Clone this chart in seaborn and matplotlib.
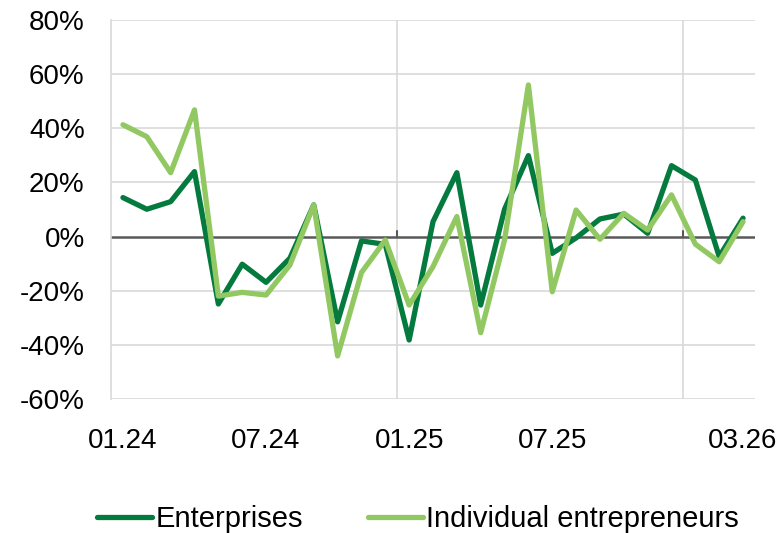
import pandas as pd
import matplotlib
matplotlib.use("Agg")
import matplotlib.pyplot as plt
import seaborn as sns
from matplotlib.ticker import PercentFormatter

# ==============================
# Data (month-over-month change, %)
# ==============================

months = ["01.24", "02.24", "03.24", "04.24", "05.24", "06.24", "07.24", "08.24", "09.24",
          "10.24", "11.24", "12.24", "01.25", "02.25", "03.25", "04.25", "05.25", "06.25",
          "07.25", "08.25", "09.25", "10.25", "11.25", "12.25", "01.26", "02.26", "03.26"]

enterprises = [14.4, 10.1, 12.9, 24.0, -24.9, -10.2, -16.9, -8.0, 11.7,
               -31.5, -1.6, -2.9, -38.2, 5.5, 23.6, -25.3, 10.1, 29.9,
               -6.2, -0.5, 6.5, 8.3, 1.2, 26.2, 20.9, -7.4, 6.8]

individual = [41.3, 36.9, 23.6, 46.8, -22.0, -20.6, -21.6, -10.5, 11.7,
              -44.1, -13.3, -1.3, -25.3, -11.1, 7.4, -35.5, -1.3, 56.0,
              -20.4, 9.8, -1.0, 8.6, 2.4, 15.4, -2.8, -9.3, 5.5]

labelled = ["01.24", "07.24", "01.25", "07.25", "03.26"]
series_names = ["Enterprises", "Individual entrepreneurs"]
colors = ["#047A3E", "#92C862"]

df = pd.DataFrame({
    "month": months * 2,
    "idx": list(range(len(months))) * 2,
    "value": enterprises + individual,
    "series": [series_names[0]] * len(months) + [series_names[1]] * len(months),
})

# ==============================
# Plot
# ==============================

sns.set_style("white")
plt.rcParams["font.family"] = ["Liberation Sans", "DejaVu Sans"]
plt.rcParams["axes.unicode_minus"] = False

fig = plt.figure(figsize=(7.83, 5.33), dpi=100)
ax = fig.add_axes([0.1418, 0.2514, 0.8224, 0.7111])

# grid and zero line
for y in range(-60, 81, 20):
    if y != 0:
        ax.axhline(y, color="#D9D9D9", lw=1.2, zorder=0)
for xv in [11.5, 23.5]:
    ax.axvline(xv, color="#D9D9D9", lw=1.2, zorder=0)
    ax.axvline(xv, ymin=60 / 140, ymax=60 / 140 + 0.014, color="#595959", lw=1.5, zorder=1)
ax.axhline(0, color="#595959", lw=1.8, zorder=1)

sns.lineplot(data=df, x="idx", y="value", hue="series", palette=colors,
             linewidth=3.8, ax=ax, legend=False, zorder=3,
             solid_capstyle="round", solid_joinstyle="round")

ax.set_xlim(-0.5, len(months) - 0.5)
ax.set_ylim(-60, 80)
ax.set_yticks(range(-60, 81, 20))
ax.yaxis.set_major_formatter(PercentFormatter(decimals=0))
ax.set_xticks([months.index(m) for m in labelled])
ax.set_xticklabels(labelled)
ax.tick_params(axis="both", length=0, labelsize=20, colors="black")
ax.tick_params(axis="y", pad=19)
ax.tick_params(axis="x", pad=21)
ax.set_xlabel("")
ax.set_ylabel("")

for side in ["top", "right", "bottom"]:
    ax.spines[side].set_visible(False)
ax.spines["left"].set_color("#D9D9D9")
ax.spines["left"].set_linewidth(1.2)

handles = [plt.Line2D([], [], color=c, lw=3.8, solid_capstyle="round") for c in colors]
fig.legend(handles, series_names, loc="center", bbox_to_anchor=(0.534, 0.026),
           ncol=2, frameon=False, fontsize=21, handlelength=1.9,
           handletextpad=0.12, columnspacing=2.2, labelcolor="black")

fig.savefig("out.png", dpi=100)
